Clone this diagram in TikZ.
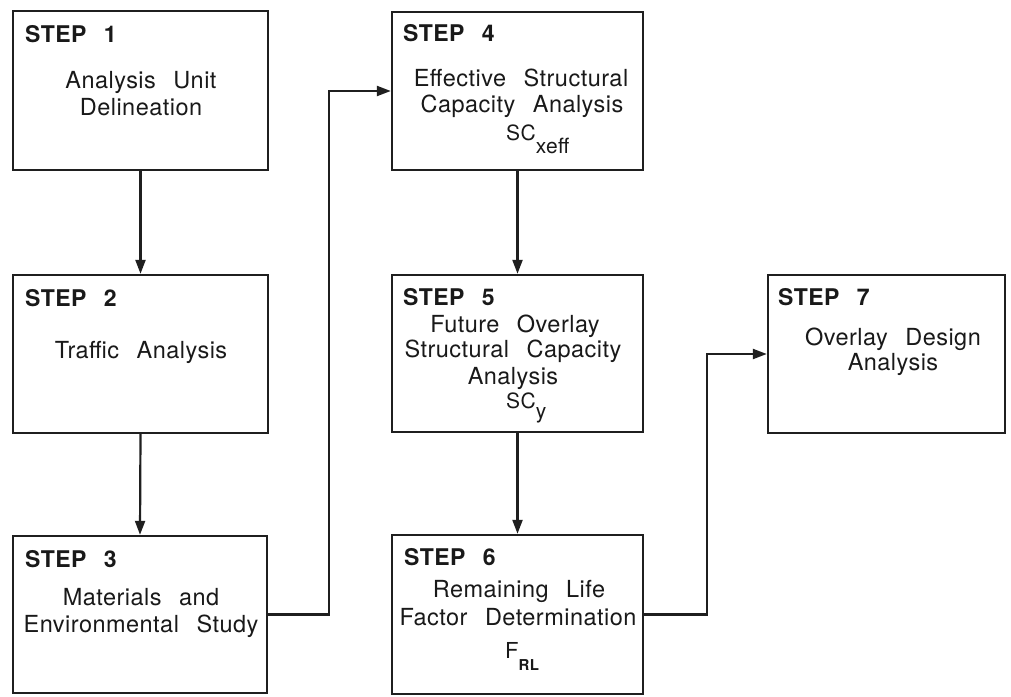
\documentclass[tikz,border=0pt]{standalone}
\usepackage{fontspec}
\setmainfont{TeX Gyre Heros}[WordSpace=2.5,LetterSpace=2]
\usetikzlibrary{arrows.meta}
\tikzset{
  box/.style={draw=black!88, line width=2.4pt, inner sep=0pt},
  txt/.style={inner sep=0pt, anchor=base, font=\fontsize{23.5}{27}\selectfont, text=black!90},
  steplbl/.style={inner sep=0pt, anchor=base west, font=\fontsize{23}{27}\selectfont\bfseries, text=black!90},
  sym/.style={inner sep=0pt, anchor=base west, text=black!90},
  conn/.style={draw=black!88, line width=2.2pt},
  arr/.style={conn, -{Triangle[length=14pt,width=10pt]}}
}
\newcommand{\stp}[1]{STEP\hspace{0.75em}#1}
\begin{document}
\begin{tikzpicture}[x=1pt,y=-1pt]
\useasboundingbox[fill=white] (0,0) rectangle (1011,696);
% boxes
\node[box, minimum width=255pt, minimum height=159pt] (b1) at (140.5,90.5) {};
\node[box, minimum width=255pt, minimum height=158pt] (b2) at (140.5,354) {};
\node[box, minimum width=254pt, minimum height=157pt] (b3) at (140,614.5) {};
\node[box, minimum width=251pt, minimum height=158pt] (b4) at (517.5,91) {};
\node[box, minimum width=251pt, minimum height=157pt] (b5) at (517.5,353.5) {};
\node[box, minimum width=251pt, minimum height=159pt] (b6) at (517.5,614.5) {};
\node[box, minimum width=237pt, minimum height=158pt] (b7) at (886.5,354) {};
% step labels
\node[steplbl] (s1) at (25,42) {\stp{1}};
\node[steplbl] (s2) at (25,306) {\stp{2}};
\node[steplbl] (s3) at (25,567) {\stp{3}};
\node[steplbl] (s4) at (403,41) {\stp{4}};
\node[steplbl] (s5) at (403,305) {\stp{5}};
\node[steplbl] (s6) at (404,565) {\stp{6}};
\node[steplbl] (s7) at (778,305) {\stp{7}};
% body texts
\node[txt] (t1a) at (141,88) {Analysis Unit};
\node[txt] (t1b) at (141,115) {Delineation};
\node[txt] (t2a) at (141,358) {Traffic Analysis};
\node[txt] (t3a) at (141,605) {Materials and};
\node[txt] (t3b) at (141,632) {Environmental Study};
\node[txt] (t4a) at (521,86) {Effective Structural};
\node[txt] (t4b) at (522,112) {Capacity Analysis};
\node[sym] (t4c) at (506,140) {{\fontsize{21}{21}\selectfont SC}\raisebox{-13pt}{\fontsize{21}{21}\selectfont xeff}};
\node[txt] (t5a) at (515,332) {Future Overlay};
\node[txt] (t5b) at (513,357) {Structural Capacity};
\node[txt] (t5c) at (513,384) {Analysis};
\node[sym] (t5d) at (506,408) {{\fontsize{21}{21}\selectfont SC}\raisebox{-10pt}{\fontsize{21}{21}\selectfont y}};
\node[txt] (t6a) at (519,597) {Remaining Life};
\node[txt] (t6b) at (518,625) {Factor Determination};
\node[sym] (t6c) at (505,658) {{\fontsize{22}{22}\selectfont F}\raisebox{-12pt}{\fontsize{15}{15}\selectfont\bfseries RL}};
\node[txt] (t7a) at (893,345) {Overlay Design};
\node[txt] (t7b) at (893,370) {Analysis};
% junction coordinates
\coordinate (j1) at (329,0);
\coordinate (j2) at (707,0);
% connectors
\draw[arr] (b1.south) -- (b2.north);
\draw[arr] (b2.south) -- (b3.north);
\draw[arr] (b4.south) -- (b5.north);
\draw[arr] (b5.south) -- (b6.north);
\draw[arr] (b3.east) -- (b3.east -| j1) -- (j1 |- b4.west) -- (b4.west);
\draw[arr] (b6.east) -- (b6.east -| j2) -- (j2 |- b7.west) -- (b7.west);
\end{tikzpicture}
\end{document}
